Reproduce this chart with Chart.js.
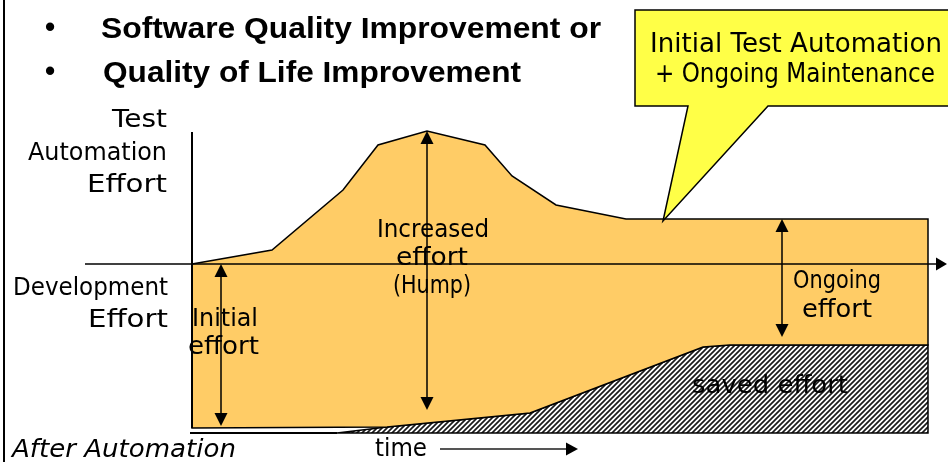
<!DOCTYPE html>
<html>
<head>
<meta charset="utf-8">
<script src="https://cdn.jsdelivr.net/npm/chart.js@4/dist/chart.umd.min.js"></script>
<style>
  html, body { margin: 0; padding: 0; background: #ffffff; }
  #wrap { width: 948px; height: 462px; position: relative; }
</style>
</head>
<body>
<div id="wrap"><canvas id="c" width="948" height="462"></canvas></div>
<script>
// ---- Data (time units on x, effort units on y; 0 = axis line) ----
const topTime   = [0, 8, 15.1, 18.6, 23.5, 29.3, 32, 36.4, 43.4, 73.6];
const topEffort = [0, 1.4, 7.4, 11.9, 13.3, 11.9, 8.8, 5.9, 4.5, 4.5];

const savedTime   = [73.6, 53.8, 51.1, 33.8, 19.5, 14.5];
const savedEffort = [-8.1, -8.1, -8.3, -14.9, -16.3, -16.9];

const devEffort   = -16.4;   // bottom of development effort
const afterEffort = -16.9;   // "After Automation" baseline
const endTime     = 73.6;

const arrowTime = [2.9, 23.5, 59];
const arrowFrom = [0, 13.3, 4.5];
const arrowTo   = [-16.2, -14.6, -7.3];

const axisTop = 13.2;

// ---- Build polygons from the data ----
const orangePoly = [];
topTime.forEach((t, i) => orangePoly.push({x: t, y: topEffort[i]}));
savedTime.slice(0, 5).forEach((t, i) => orangePoly.push({x: t, y: savedEffort[i]}));
orangePoly.push({x: 0, y: devEffort});
orangePoly.push({x: topTime[0], y: topEffort[0]});

const savedPoly = [];
for (let i = savedTime.length - 1; i >= 0; i--) savedPoly.push({x: savedTime[i], y: savedEffort[i]});
savedPoly.push({x: endTime, y: afterEffort});
savedPoly.push({x: savedTime[savedTime.length - 1], y: savedEffort[savedEffort.length - 1]});

// hatch pattern
function makeHatch() {
  const p = document.createElement('canvas');
  const s = 5;
  p.width = s; p.height = s;
  const g = p.getContext('2d');
  g.fillStyle = '#ffffff';
  g.fillRect(0, 0, s, s);
  g.strokeStyle = '#1a1a1a';
  g.lineWidth = 1.7;
  g.beginPath();
  g.moveTo(-1, s + 1); g.lineTo(s + 1, -1);
  g.moveTo(-1, 1); g.lineTo(1, -1);
  g.moveTo(s - 1, s + 1); g.lineTo(s + 1, s - 1);
  g.stroke();
  return g.createPattern(p, 'repeat');
}
const ctx0 = document.getElementById('c').getContext('2d');
const hatch = makeHatch();

function fitText(ctx, s, x, y, font, align, width) {
  ctx.save();
  ctx.font = font;
  ctx.textAlign = align;
  ctx.textBaseline = 'alphabetic';
  const w = ctx.measureText(s).width;
  const sx = width ? width / w : 1;
  ctx.translate(x, y);
  ctx.scale(sx, 1);
  ctx.fillText(s, 0, 0);
  ctx.restore();
}

function arrowHead(ctx, x, y, dx, dy, len, half) {
  const n = Math.hypot(dx, dy); dx /= n; dy /= n;
  const bx = x - dx * len, by = y - dy * len;
  ctx.beginPath();
  ctx.moveTo(x, y);
  ctx.lineTo(bx - dy * half, by + dx * half);
  ctx.lineTo(bx + dy * half, by - dx * half);
  ctx.closePath();
  ctx.fill();
}

const decor = {
  id: 'decor',
  afterDatasetsDraw(chart) {
    const ctx = chart.ctx;
    const xs = chart.scales.x, ys = chart.scales.y;
    const X = v => xs.getPixelForValue(v), Y = v => ys.getPixelForValue(v);
    ctx.save();
    ctx.fillStyle = '#000';
    ctx.strokeStyle = '#000';

    // left frame
    ctx.lineWidth = 2;
    ctx.beginPath(); ctx.moveTo(4, 0); ctx.lineTo(4, 462); ctx.stroke();

    // vertical axis
    ctx.lineWidth = 2;
    ctx.beginPath(); ctx.moveTo(X(0), Y(axisTop)); ctx.lineTo(X(0), Y(devEffort)); ctx.stroke();

    // "after automation" bottom line
    ctx.lineWidth = 2;
    ctx.beginPath(); ctx.moveTo(X(-0.2), Y(afterEffort)); ctx.lineTo(X(savedTime[savedTime.length-1]), Y(afterEffort)); ctx.stroke();

    // horizontal axis with arrow
    ctx.lineWidth = 1.5;
    const axL = 85, axR = 947;
    ctx.beginPath(); ctx.moveTo(axL, Y(0)); ctx.lineTo(axR - 8, Y(0)); ctx.stroke();
    arrowHead(ctx, axR, Y(0), 1, 0, 11, 6.5);

    // double arrows
    ctx.lineWidth = 1.5;
    arrowTime.forEach((t, i) => {
      const x = X(t), y1 = Y(arrowFrom[i]), y2 = Y(arrowTo[i]);
      ctx.beginPath(); ctx.moveTo(x, y1 + 6); ctx.lineTo(x, y2 - 6); ctx.stroke();
      arrowHead(ctx, x, y1, 0, -1, 13, 6.5);
      arrowHead(ctx, x, y2, 0, 1, 13, 6.5);
    });

    // time arrow
    ctx.strokeStyle = '#555';
    ctx.fillStyle = '#000';
    ctx.lineWidth = 2;
    ctx.beginPath(); ctx.moveTo(440, 449); ctx.lineTo(568, 449); ctx.stroke();
    arrowHead(ctx, 578, 449, 1, 0, 12, 6.5);

    // callout
    const tipX = X(47.1), tipY = Y(4.3);
    ctx.beginPath();
    ctx.moveTo(635, 10); ctx.lineTo(960, 10); ctx.lineTo(960, 106);
    ctx.lineTo(768, 106); ctx.lineTo(tipX, tipY); ctx.lineTo(688, 106);
    ctx.lineTo(635, 106); ctx.closePath();
    ctx.fillStyle = '#FFFF47';
    ctx.fill();
    ctx.strokeStyle = '#000';
    ctx.lineWidth = 1.5;
    ctx.stroke();

    // texts
    ctx.fillStyle = '#000';
    const bold = 'bold 29px "Liberation Sans", Arial, sans-serif';
    const lab = '25px "DejaVu Sans", Verdana, sans-serif';
    fitText(ctx, '•', 50, 37, bold, 'center');
    fitText(ctx, '•', 50, 81, bold, 'center');
    fitText(ctx, 'Software Quality Improvement or', 101, 38, bold, 'left', 500);
    fitText(ctx, 'Quality of Life Improvement', 103, 82, bold, 'left', 418);

    const cf = '26px "DejaVu Sans", Verdana, sans-serif';
    fitText(ctx, 'Initial Test Automation', 796, 52, cf, 'center', 292);
    fitText(ctx, '+ Ongoing Maintenance', 795, 82, cf, 'center', 280);

    fitText(ctx, 'Test', 167, 127, lab, 'right', 55);
    fitText(ctx, 'Automation', 167, 160, lab, 'right', 139);
    fitText(ctx, 'Effort', 167, 192, lab, 'right', 80);
    fitText(ctx, 'Development', 168, 295, lab, 'right', 155);
    fitText(ctx, 'Effort', 168, 327, lab, 'right', 80);

    fitText(ctx, 'Initial', 192, 326, lab, 'left', 66);
    fitText(ctx, 'effort', 188, 354, lab, 'left', 71);

    fitText(ctx, 'Increased', 433, 237, lab, 'center', 112);
    fitText(ctx, 'effort', 432, 265, lab, 'center', 72);
    fitText(ctx, '(Hump)', 432, 293, lab, 'center', 78);

    fitText(ctx, 'Ongoing', 837, 288, lab, 'center', 88);
    fitText(ctx, 'effort', 837, 317, lab, 'center', 70);

    fitText(ctx, 'saved effort', 770, 393, lab, 'center', 156);

    fitText(ctx, 'After Automation', 12, 457, 'italic 25px "DejaVu Sans", Verdana, sans-serif', 'left', 224);
    fitText(ctx, 'time', 375, 456, lab, 'left', 52);
    ctx.restore();
  }
};

new Chart(ctx0, {
  type: 'scatter',
  data: {
    datasets: [
      {
        label: 'Effort with automation',
        data: orangePoly,
        showLine: true,
        tension: 0,
        fill: 'shape',
        backgroundColor: '#FFCC66',
        borderColor: '#000000',
        borderWidth: 1.5,
        pointRadius: 0,
        order: 1
      },
      {
        label: 'Saved effort',
        data: savedPoly,
        showLine: true,
        tension: 0,
        fill: 'shape',
        backgroundColor: hatch,
        borderColor: '#000000',
        borderWidth: 1.5,
        pointRadius: 0,
        order: 2
      }
    ]
  },
  options: {
    responsive: false,
    animation: false,
    devicePixelRatio: 1,
    layout: { padding: 0 },
    plugins: { legend: { display: false }, tooltip: { enabled: false }, title: { display: false } },
    scales: {
      x: { type: 'linear', min: -19.2, max: 75.6, display: false },
      y: { type: 'linear', min: -19.8, max: 26.4, display: false }
    }
  },
  plugins: [decor]
});
</script>
</body>
</html>
